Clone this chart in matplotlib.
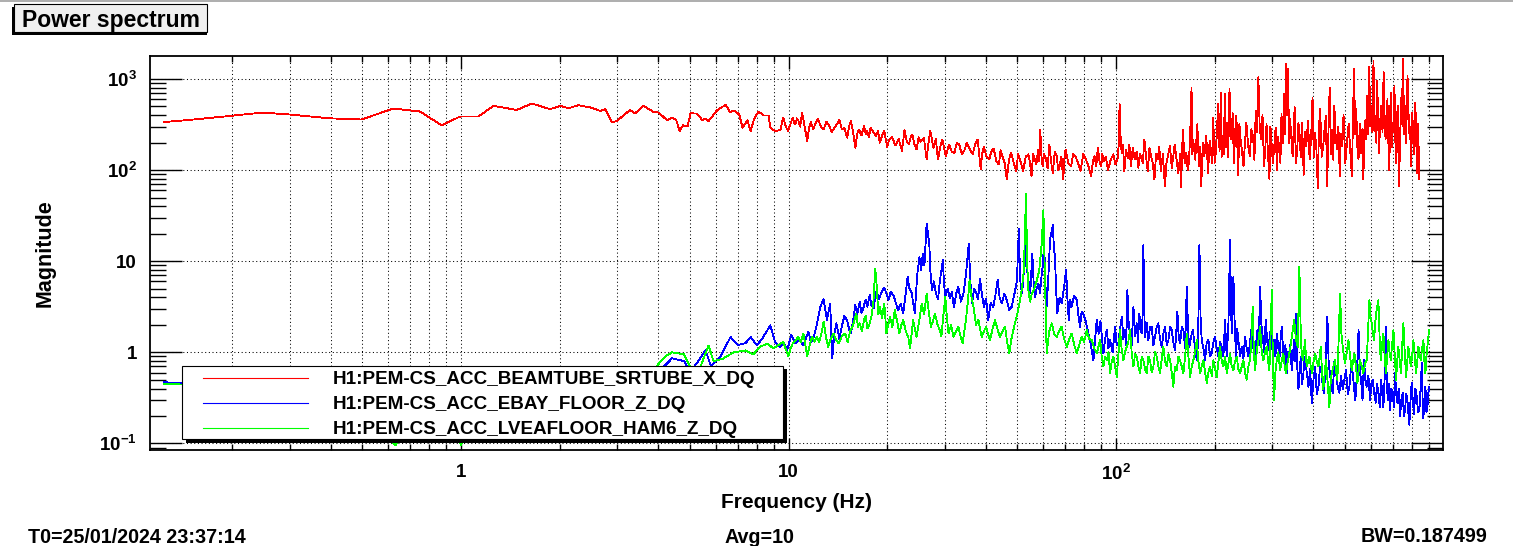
import matplotlib
matplotlib.use('Agg')
import matplotlib.pyplot as plt
from matplotlib.patches import Rectangle
from matplotlib.lines import Line2D
from matplotlib.ticker import LogLocator, NullFormatter

# ---- data: (frequency in Hz, magnitude) ----

red_pts = [
    (0.124, 337), (0.148, 355), (0.197, 393), (0.248, 428), (0.300, 407), (0.397, 370),
    (0.497, 359), (0.621, 474), (0.749, 440), (0.873, 310), (0.993, 387), (1.13, 387),
    (1.256, 507), (1.48, 457), (1.645, 538), (1.87, 466), (2.01, 507), (2.13, 478),
    (2.28, 515), (2.48, 488), (2.66, 446), (2.76, 466), (2.89, 337), (2.99, 345),
    (3.28, 457), (3.40, 420), (3.61, 507), (3.87, 434), (4.01, 428), (4.26, 352),
    (4.41, 375), (4.54, 355), (4.65, 268), (4.76, 310), (4.92, 304), (5.02, 420),
    (5.25, 417), (5.45, 355), (5.58, 367), (5.70, 345), (6.06, 457), (6.43, 520),
    (6.63, 434), (6.82, 452), (7.07, 408), (7.24, 292), (7.49, 352), (7.66, 268),
    (7.84, 361), (8.10, 440), (8.40, 398), (8.69, 398), (8.80, 292), (9.12, 265),
    (9.45, 279), (9.63, 378), (9.80, 304), (9.96, 268),
    (10.3, 378), (10.4, 330), (10.5, 318), (10.6, 370), (10.7, 355), (10.85, 300),
    (11.0, 428), (11.2, 300), (11.4, 208), (11.55, 290), (11.7, 337), (11.9, 279),
    (12.1, 330), (12.3, 367), (12.55, 300), (12.8, 279), (13.05, 340), (13.3, 310),
    (13.55, 260), (13.8, 292), (14.05, 320), (14.3, 355), (14.55, 280), (14.8, 292),
    (15.1, 227), (15.3, 300), (15.5, 347), (15.75, 260), (16.0, 176), (16.2, 250),
    (16.4, 279), (16.7, 240), (17.0, 304), (17.2, 250), (17.4, 268), (17.6, 230),
    (17.8, 292), (18.15, 260), (18.5, 236), (18.75, 270), (19.0, 200), (19.3, 240),
    (19.6, 268), (20.0, 180), (20.3, 217), (20.7, 231), (21.2, 186), (21.7, 220),
    (22.2, 162), (22.6, 275), (22.95, 210), (23.3, 191), (23.6, 230), (23.9, 245),
    (24.25, 190), (24.6, 168), (24.95, 230), (25.3, 204), (25.9, 227), (26.4, 131),
    (26.75, 200), (27.1, 268), (27.7, 176), (28.15, 220), (28.6, 131), (29.05, 180),
    (29.5, 217), (30.2, 142), (30.9, 191), (31.5, 160), (32.1, 155), (32.65, 200),
    (33.2, 191), (33.8, 150), (34.4, 162), (35.0, 200), (35.6, 176), (36.5, 149),
    (37.1, 190), (37.8, 217),
    (38.6, 102), (39.0, 150), (39.5, 180), (40.2, 140), (41.0, 131), (41.6, 160),
    (42.3, 172), (43.1, 125), (43.9, 115), (44.4, 165), (45.0, 142), (45.7, 120),
    (46.4, 79), (47.1, 130), (47.8, 155), (48.7, 120), (49.6, 97), (50.2, 150),
    (50.8, 133), (51.4, 115), (52.0, 97), (53.0, 140), (54.0, 149), (54.6, 120),
    (55.2, 85), (55.8, 150), (56.5, 131), (57.1, 115), (57.8, 168), (58.2, 125),
    (58.7, 279), (59.2, 140), (59.7, 110), (60.3, 150), (61.0, 136), (61.8, 105),
    (62.6, 191), (63.3, 125), (64.1, 93), (65.0, 160), (65.9, 142), (66.6, 100),
    (67.3, 112), (68.1, 140), (69.0, 79), (69.5, 130), (70.1, 168), (71.5, 120),
    (72.9, 110), (74.0, 150), (75.2, 142), (76.5, 120), (77.9, 97), (79.4, 150),
    (80.9, 131), (82.4, 110), (83.9, 85), (85.0, 125), (86.0, 142), (87.0, 110),
    (88.0, 176), (89.0, 125), (90.1, 110), (90.8, 150), (91.5, 125), (93.0, 140),
    (94.5, 100), (96.3, 130), (98.1, 149), (99.5, 115),
    (101, 131), (101.8, 180), (102.5, 529), (103.2, 240), (104, 155), (105, 188),
    (106, 97), (107.3, 165), (108.6, 136), (109.8, 190), (111, 110), (112.5, 175),
    (114, 131), (115.5, 160), (117, 106), (118.2, 150), (119.5, 136), (120.8, 120),
    (122, 217), (123.5, 140), (125, 97), (126.5, 175), (128, 142), (129.5, 118),
    (131, 79), (132.5, 150), (134, 131), (135.5, 180), (137, 97), (139, 150),
    (141, 66), (142.5, 120), (144, 142), (146, 185), (148, 106), (149.5, 140),
    (151, 191), (153, 130), (155, 93), (157, 150), (158, 65), (159, 150),
    (160, 279), (162, 118), (164, 155), (165.5, 100), (167, 125), (168.5, 260),
    (170, 808), (171, 150), (172, 217), (174.5, 130), (177, 318), (178, 200),
    (179, 110), (180.5, 180), (182, 66), (184, 200), (186, 142), (188.5, 240),
    (191, 93), (193, 210), (195, 162), (196.5, 120), (198, 378), (200, 120),
    (202, 168), (203.5, 300), (205, 529), (207, 160), (209, 711), (210, 140),
    (211, 236), (213, 150), (215, 680), (216.5, 180), (218, 332), (220, 140),
    (222, 774), (223.5, 300), (225, 217), (227, 420), (229, 120), (231, 260),
    (233, 393), (234.5, 200), (236, 89), (238, 320), (240, 217), (242.5, 160),
    (245, 110), (247.5, 200), (250, 332), (253, 190), (256, 142), (259, 280),
    (262, 236), (264.5, 130), (267, 446), (269.5, 260), (272, 1042), (274.5, 300),
    (277, 217), (280, 400), (283, 110), (285.5, 170), (288, 318), (291, 150),
    (294, 79), (296, 300), (298, 217), (301, 120), (304, 176), (307, 290),
    (310, 100), (312.5, 230), (315, 168), (317.5, 120), (320, 410), (323, 200),
    (326, 680), (328, 250), (330, 1459), (332.5, 400), (335, 1284), (337.5, 200),
    (340, 361), (343, 230), (346, 142), (348.5, 260), (351, 488), (354, 120),
    (357, 155), (360.5, 330), (364, 217), (366.5, 140), (369, 332), (371.5, 210),
    (374, 89), (377.5, 260), (381, 184), (385.5, 350), (390, 131), (394, 220),
    (398, 627), (401.5, 140), (405, 258), (409, 170), (413, 64), (416.5, 300),
    (420, 466), (424.5, 140), (429, 184), (433, 280), (437, 393), (439, 180),
    (441, 66), (445, 250), (449, 808), (453, 150), (457, 279), (460.5, 130),
    (464, 507), (468.5, 230), (473, 168), (477.5, 300), (482, 85), (485.5, 250),
    (489, 184), (495, 400), (501, 120), (507, 200), (513, 321), (519, 160),
    (525, 85), (529, 400), (533, 1284), (537, 250), (541, 466), (545.5, 180),
    (550, 131), (555, 320), (560, 155), (564.5, 280), (569, 79), (574, 350),
    (579, 217), (582, 420), (585, 653), (589, 250), (593, 1352), (597.5, 300),
    (602, 507), (606.5, 260), (611, 1588), (615, 270), (619, 393), (623, 200),
    (627, 955), (631, 400), (635, 155), (640.5, 340), (646, 507), (651, 260),
    (656, 1182), (660.5, 400), (665, 217), (669.5, 310), (674, 600), (678.5, 200),
    (683, 100), (686.5, 380), (690, 711), (694.5, 180), (699, 332), (703.5, 260),
    (708, 842), (712, 230), (716, 120), (720, 300), (724, 507), (727.5, 190),
    (731, 66), (738, 280), (745, 774), (749, 300), (753, 1656), (757, 250),
    (761, 507), (768.5, 200), (776, 1084), (782, 400), (788, 217), (792, 300),
    (796, 110), (802, 420), (808, 258), (814, 150), (820, 552), (825.5, 200),
    (831, 93), (834.5, 320), (838, 217), (840, 150), (842, 79)]

blue_pts = [
    (0.124, 0.47), (0.15, 0.45), (0.2, 0.40), (0.3, 0.35), (0.45, 0.30), (0.6, 0.28),
    (0.8, 0.25), (1.0, 0.28), (1.5, 0.35), (2.0, 0.40), (3.0, 0.45), (4.0, 0.60),
    (4.41, 0.86), (4.8, 0.80), (5.0, 0.60), (5.3, 0.80), (5.58, 1.05), (5.8, 0.70),
    (6.2, 0.90), (6.65, 1.47), (7.0, 1.20), (7.39, 1.26), (7.66, 1.47), (8.0, 1.20),
    (8.3, 1.40), (8.8, 1.98), (9.1, 1.30),
    (9.42, 1.15), (9.7, 1.25), (9.9, 1.05), (10.2, 1.55), (10.5, 1.25), (10.8, 1.36),
    (11.1, 1.2), (11.5, 1.68), (11.7, 1.3), (11.9, 1.42), (12.2, 2.0), (12.5, 3.16),
    (12.8, 3.81), (13.1, 2.26), (13.4, 3.44), (13.6, 0.86), (13.8, 1.6), (14.0, 2.08),
    (14.3, 1.4), (14.5, 1.83), (14.8, 2.5), (15.1, 2.26), (15.3, 1.8), (15.5, 1.61),
    (15.8, 2.4), (16.0, 3.3), (16.2, 2.6), (16.5, 3.6), (16.7, 2.7), (16.9, 3.03),
    (17.2, 3.8), (17.4, 3.16), (17.7, 4.24), (17.9, 3.3), (18.2, 3.03), (18.4, 4.2),
    (18.6, 4.8), (18.8, 3.8), (19.0, 4.06), (19.3, 4.7), (19.6, 5.15), (19.9, 4.4),
    (20.2, 3.74), (20.5, 4.6), (20.9, 4.24), (21.2, 3.6), (21.6, 2.9), (22.0, 3.4),
    (22.4, 2.67), (22.7, 4.0), (23.1, 6.7), (23.4, 5.0), (23.8, 4.42), (24.0, 3.5),
    (24.3, 2.67), (24.7, 7.0), (25.1, 11.1), (25.4, 8.0), (25.7, 12.1), (26.0, 9.0),
    (26.4, 25.8), (26.9, 15.6), (27.1, 8.0), (27.4, 4.8), (27.8, 6.0), (28.2, 4.42),
    (28.6, 3.8), (29.0, 6.2), (29.6, 10.3), (29.8, 6.0), (30.1, 4.06), (30.6, 5.0),
    (31.1, 3.9), (31.5, 4.6), (32.0, 3.16), (32.5, 4.4), (33.0, 5.2), (33.6, 3.6),
    (34.2, 4.42), (34.8, 7.0), (35.5, 15.6), (35.9, 6.0), (36.3, 3.44), (36.9, 5.0),
    (37.5, 4.42), (37.9, 3.8), (38.4, 6.4), (38.9, 4.5), (39.5, 3.16), (40.1, 3.9),
    (40.7, 2.26), (41.4, 3.5), (42.2, 3.16), (42.8, 4.2), (43.5, 6.2), (44.1, 4.0),
    (44.8, 3.44), (45.6, 4.4), (46.4, 3.74), (47.2, 2.9), (48.0, 3.16), (48.6, 3.9),
    (49.2, 4.8), (49.8, 6.0), (50.5, 22.8), (50.9, 7.0), (51.2, 5.2), (51.7, 4.5),
    (52.1, 6.7), (52.6, 9.0), (53.1, 36.2), (53.5, 8.0), (54.0, 6.2), (54.7, 4.5),
    (55.5, 12.1), (56.0, 6.0), (56.6, 4.06), (57.2, 5.0), (57.9, 5.7), (58.6, 4.5),
    (59.3, 7.3), (59.8, 9.0), (60.3, 17.0), (60.8, 6.0), (61.4, 3.16), (62.1, 6.5),
    (62.9, 17.7), (64.1, 24.8), (64.6, 14.0), (65.1, 11.1), (65.6, 5.0), (66.2, 2.67),
    (67.2, 4.0), (68.2, 3.44), (69.3, 5.0), (70.4, 8.0), (71.0, 4.0), (71.7, 2.26),
    (72.4, 3.8), (73.2, 3.16), (74.5, 4.2), (75.9, 3.74), (76.7, 2.6), (77.6, 1.91),
    (78.5, 2.8), (79.4, 2.67), (80.8, 2.2), (82.3, 1.61), (83.8, 1.2), (85.3, 0.82),
    (86.3, 1.4), (87.3, 2.26), (88.5, 1.6), (89.6, 2.2),
    (90.5, 1.5), (91.5, 0.97), (92.6, 1.4), (93.7, 1.76), (94.8, 1.1), (95.9, 1.36),
    (97.6, 1.0), (99.3, 1.91), (100.4, 1.2), (101.6, 1.25), (102.8, 1.8), (104.1, 2.46),
    (105.3, 1.4), (106.5, 1.76), (107.4, 1.2), (108.3, 4.8), (109.3, 2.0), (110.3, 1.61),
    (111.6, 1.2), (113, 3.16), (114.3, 1.5), (115.6, 2.08), (116.7, 1.3), (117.8, 2.67),
    (118.8, 1.8), (119.8, 1.61), (120.5, 2.5), (121.2, 15.0), (121.9, 3.0), (122.6, 1.48),
    (124, 2.1), (125.5, 1.36), (127, 1.9), (128.5, 1.91), (130, 1.2), (131.5, 1.48),
    (133, 1.9), (134.6, 2.08), (136.2, 1.4), (137.9, 1.15), (139.5, 1.6), (141.1, 1.91),
    (142.8, 1.2), (144.5, 1.36), (146.2, 1.9), (147.9, 1.76), (149.6, 1.3), (151.4, 1.06),
    (152.6, 1.6), (153.9, 2.79), (155.3, 1.5), (156.8, 1.25), (158.7, 1.9), (160.6, 1.76),
    (162.5, 1.1), (164.4, 5.24), (166, 1.6), (167.5, 1.15), (169.5, 1.5), (171.5, 1.76),
    (173.9, 1.2), (176.3, 0.82), (178, 1.3), (179.7, 15.0), (181.1, 2.5), (182.6, 1.36),
    (184.8, 1.1), (187.0, 0.82), (189.2, 1.3), (191.4, 1.36), (193.7, 0.9), (196.0, 0.97),
    (198.3, 1.3), (200.6, 1.48), (203, 1.1), (205.3, 0.90), (207.7, 1.3), (210.2, 1.15),
    (212.7, 0.9), (215.2, 2.26), (216.5, 1.3), (217.8, 0.90), (220.3, 2.0), (222.9, 17.0),
    (224.2, 4.0), (225.5, 1.61), (226.8, 2.5), (228.2, 6.7), (230.3, 2.0), (232.5, 0.90),
    (234.4, 1.8), (236.4, 1.36), (239.2, 0.9), (242.0, 1.15), (244.8, 0.85), (247.7, 1.48),
    (250.6, 1.1), (253.5, 0.90), (256.5, 1.3), (259.6, 1.91), (262.6, 1.1), (265.7, 0.70),
    (268, 1.3), (270.2, 1.76), (272.7, 1.2), (275.3, 5.24), (277.9, 2.0), (280.5, 1.48),
    (283.4, 1.0), (286.4, 2.26), (289.1, 1.4), (291.8, 1.06), (294.6, 1.5), (297.4, 1.91),
    (300.5, 1.0), (303.7, 1.36), (306.6, 0.9), (309.5, 1.61), (312.4, 1.2), (315.3, 0.82),
    (318, 1.4), (320.6, 1.91), (323.3, 1.1), (326, 0.82), (329, 1.2), (332, 0.59),
    (334.3, 1.0), (336.6, 0.90), (340.3, 1.2), (344, 0.64), (346.8, 0.9), (349.7, 1.36),
    (352, 0.8), (354.6, 2.67), (357.5, 0.7), (360.5, 0.39), (363.4, 0.6), (366.4, 0.90),
    (369.8, 0.45), (373.3, 0.59), (376.7, 0.9), (380.2, 0.70), (383.4, 0.55), (386.7, 0.42),
    (391.3, 0.65), (395.9, 0.28), (400.6, 0.5), (405.4, 0.70), (410.2, 0.35), (415, 0.42),
    (419.8, 0.7), (424.6, 0.59), (428, 0.4), (431.5, 0.36), (436.7, 0.8), (441.9, 2.46),
    (446.1, 0.7), (450.3, 0.59), (454.5, 0.4), (458.8, 0.36), (464.2, 0.8), (469.7, 0.59),
    (475.2, 0.42), (480.8, 0.36), (486.5, 0.55), (492.2, 0.39), (498, 0.5), (503.9, 0.64),
    (509.9, 0.35), (515.9, 0.42), (522, 0.7), (528.1, 0.59), (533, 0.4), (538, 0.30),
    (544, 0.6), (550, 1.76), (555, 0.6), (560, 0.50), (565.7, 0.3), (571.5, 0.82),
    (577, 0.5), (582.7, 0.42), (589.6, 0.55), (596.5, 0.30), (602.1, 0.45), (607.7, 0.50),
    (614.2, 0.35), (620.7, 0.28), (626.5, 0.45), (632.4, 0.36), (638.4, 0.25), (644.4, 0.50),
    (649.7, 0.35), (655.1, 0.25), (660.5, 0.5), (665.9, 1.91), (670.6, 0.5), (675.3, 0.30),
    (680.8, 0.45), (686.4, 0.23), (692.9, 0.4), (699.4, 0.36), (705.2, 0.25), (711, 0.59),
    (716.8, 0.35), (722.6, 0.28), (729.4, 0.4), (736.3, 0.20), (743.3, 0.3), (750.3, 0.36),
    (756.5, 0.2), (762.7, 0.23), (769, 0.35), (775.3, 0.30), (780.7, 0.22), (786.2, 0.16),
    (792.7, 0.3), (799.2, 0.46), (805.9, 0.28), (812.6, 0.21), (820.3, 0.4), (828, 0.33),
    (835.8, 0.22), (843.6, 0.23), (850.8, 0.4), (858, 0.76), (863, 0.3), (867.9, 0.19),
    (874, 0.3), (880.2, 0.42), (886.5, 0.22), (892.7, 0.25), (898, 0.35), (903.2, 0.42)]

green_pts = [
    (0.124, 0.45), (0.15, 0.44), (0.2, 0.30), (0.3, 0.25), (0.45, 0.20), (0.58, 0.14),
    (0.63, 0.095), (0.67, 0.14), (0.8, 0.20), (0.95, 0.14), (1.0, 0.097), (1.05, 0.15),
    (1.5, 0.30), (2.0, 0.35), (3.0, 0.40), (3.8, 0.60), (4.2, 0.90), (4.41, 1.00),
    (4.8, 0.95), (5.0, 0.70), (5.3, 0.60), (5.70, 1.19), (5.9, 0.80), (6.3, 0.85),
    (6.8, 1.00), (7.39, 1.05), (7.8, 0.95), (8.2, 1.15), (8.61, 1.25), (9.0, 1.10),
    (9.3, 1.2), (9.64, 1.3), (9.8, 1.1), (9.99, 0.9), (10.15, 1.1), (10.3, 1.25),
    (10.5, 1.35), (10.7, 1.48), (10.9, 1.3), (11.1, 1.61), (11.4, 0.9), (11.6, 1.2),
    (11.8, 1.48), (12.0, 1.3), (12.2, 1.48), (12.4, 1.3), (12.6, 1.61), (12.8, 2.17),
    (13.0, 1.5), (13.2, 1.15), (13.45, 1.4), (13.7, 1.61), (13.95, 1.4), (14.2, 1.25),
    (14.55, 1.5), (14.9, 1.61), (15.15, 1.3), (15.4, 1.68), (15.75, 2.0), (16.1, 2.67),
    (16.3, 1.9), (16.5, 2.08), (16.75, 1.7), (17.0, 2.26), (17.2, 2.5), (17.4, 1.83),
    (17.65, 2.0), (17.9, 2.46), (18.15, 3.5), (18.4, 8.3), (18.6, 5.2), (18.8, 2.6),
    (19.0, 3.16), (19.3, 2.4), (19.6, 3.44), (19.75, 2.4), (19.9, 1.61), (20.15, 2.0),
    (20.4, 2.46), (20.75, 1.9), (21.1, 2.9), (21.45, 2.2), (21.8, 1.61), (22.1, 2.0),
    (22.4, 2.26), (22.8, 1.7), (23.2, 1.48), (23.5, 1.1), (23.75, 1.6), (24.0, 2.26),
    (24.3, 1.8), (24.6, 1.48), (25.05, 2.2), (25.5, 3.44), (25.95, 2.6), (26.4, 4.42),
    (26.8, 2.8), (27.2, 1.91), (27.6, 2.2), (28.0, 2.67), (28.5, 2.0), (29.0, 1.75),
    (29.3, 1.5), (29.6, 2.26), (29.85, 3.0), (30.1, 4.06), (30.45, 2.4), (30.8, 1.61),
    (31.35, 2.0), (31.9, 1.48), (32.45, 1.7), (33.0, 1.91), (33.5, 1.5), (34.0, 1.25),
    (34.4, 1.7), (34.8, 2.26), (35.25, 3.5), (35.7, 6.2), (36.2, 4.0), (36.7, 3.16),
    (37.35, 2.0), (38.0, 2.26), (38.45, 1.8), (38.9, 1.48), (39.5, 1.7), (40.1, 1.91),
    (40.65, 1.6), (41.2, 1.36), (41.95, 1.8), (42.7, 2.26), (43.45, 1.8), (44.2, 1.48),
    (45.0, 1.7), (45.8, 1.91), (46.5, 1.3), (47.2, 0.97), (47.9, 1.4), (48.6, 1.75),
    (49.3, 2.2), (50.0, 2.67), (50.75, 3.5), (51.5, 4.8), (52.3, 8.0), (53.1, 55.0),
    (53.5, 10.0), (54.0, 4.8), (54.65, 3.6), (55.3, 4.42), (56.3, 5.0), (57.3, 6.2),
    (58.3, 8.0), (59.3, 15.6), (60.0, 36.2), (60.7, 6.2), (61.4, 0.97), (62.5, 1.7),
    (63.6, 2.08), (64.75, 1.6), (65.9, 1.48), (67.05, 1.7), (68.2, 1.91), (69.45, 1.4),
    (70.7, 1.15), (71.95, 1.4), (73.2, 1.61), (74.55, 1.2), (75.9, 0.97), (77.2, 1.2),
    (78.5, 1.48), (79.9, 1.3), (81.4, 1.75), (82.8, 1.4), (84.3, 1.36), (85.8, 1.1),
    (87.3, 0.97),
    (89.4, 1.36), (90.4, 0.9), (91.5, 0.70), (92.6, 0.9), (93.7, 0.82), (94.8, 1.0),
    (95.9, 0.59), (97.0, 0.8), (98.1, 0.90), (99.3, 0.7), (100.5, 0.54), (101.6, 0.9),
    (102.8, 1.76), (104, 1.1), (105.3, 0.82), (106.5, 1.0), (107.8, 1.15), (109, 1.3),
    (110.3, 1.76), (111.6, 1.0), (113, 0.70), (114.3, 0.95), (115.6, 0.90), (117, 0.7),
    (118.4, 0.59), (119.8, 0.9), (121.2, 0.82), (122.6, 0.65), (124.1, 0.59), (125.5, 0.9),
    (127, 0.82), (128.5, 0.6), (130, 0.70), (131.5, 1.0), (133.1, 0.90), (134.7, 0.7),
    (136.3, 0.59), (137.9, 0.85), (139.5, 1.15), (141.1, 0.8), (142.8, 0.70), (144.5, 0.95),
    (146.2, 0.82), (147.9, 0.6), (149.6, 0.42), (151.4, 0.7), (153.2, 0.64), (155, 0.9),
    (156.8, 0.82), (158.7, 0.7), (160.6, 0.59), (162.5, 0.9), (164.4, 1.61), (166.3, 0.9),
    (168.3, 0.54), (170.2, 0.7), (172.2, 0.82), (174.2, 1.0), (176.3, 1.36), (178.4, 0.8),
    (180.5, 0.59), (182.6, 0.7), (184.8, 0.82), (187, 0.6), (189.2, 0.46), (191.4, 0.6),
    (193.7, 0.70), (196, 0.55), (198.2, 0.82), (200.6, 0.65), (203, 0.54), (205.4, 0.8),
    (207.8, 1.15), (210.2, 0.8), (212.7, 0.70), (215.2, 0.9), (217.8, 0.59), (220.3, 0.75),
    (222.9, 0.97), (225.5, 0.7), (228.2, 0.64), (230.9, 0.8), (233.6, 0.90), (236.3, 0.65),
    (239.1, 0.59), (242, 0.7), (244.8, 0.82), (247.7, 0.6), (250.6, 0.50), (253.5, 0.7),
    (256.5, 0.82), (258.9, 1.3), (261.3, 3.16), (263.5, 1.0), (265.7, 0.64), (268, 0.9),
    (270.2, 1.15), (272.7, 1.4), (275.3, 1.91), (278.5, 1.0), (281.8, 0.82), (285, 1.0),
    (288.4, 1.15), (291.1, 0.8), (293.9, 0.64), (296.3, 1.5), (298.8, 4.8), (301.2, 0.8),
    (303.7, 0.30), (306.6, 0.6), (309.5, 0.82), (313.1, 1.0), (316.8, 0.64), (320.5, 0.8),
    (324.3, 0.97), (327.3, 0.7), (330.4, 0.59), (333.5, 0.75), (336.6, 0.90), (340.3, 1.1),
    (344, 1.48), (346.8, 1.8), (349.7, 2.26), (354.2, 1.4), (358.7, 1.15), (360.7, 3.0),
    (362.8, 8.67), (367.1, 1.2), (371.5, 0.82), (374.5, 1.0), (377.6, 1.36), (379.9, 0.9),
    (382.2, 0.70), (385.8, 0.8), (389.4, 0.90), (393.1, 0.7), (396.8, 0.59), (401.1, 0.8),
    (405.4, 0.97), (410.2, 0.8), (415, 0.70), (418.3, 0.9), (421.7, 1.15), (425.6, 0.6),
    (429.5, 0.39), (433.6, 0.6), (437.7, 0.82), (442.9, 0.45), (448.1, 0.25), (451.8, 0.45),
    (455.5, 0.59), (460.9, 0.7), (466.3, 0.82), (470.1, 0.6), (474, 0.50), (478.5, 1.5),
    (483.1, 4.43), (487.6, 1.6), (492.2, 1.15), (496.3, 0.9), (500.4, 0.76), (506.3, 1.0),
    (512.3, 1.36), (518.3, 0.9), (524.4, 0.64), (529.3, 0.8), (534.3, 0.97), (540, 0.7),
    (545.8, 0.46), (550.8, 0.65), (555.9, 0.82), (562.4, 0.7), (568.9, 0.59), (575.8, 0.75),
    (582.7, 0.82), (588.2, 1.8), (593.7, 3.74), (598.6, 2.4), (603.5, 2.08), (608.5, 1.6),
    (613.5, 1.36), (617.8, 2.0), (622.2, 2.67), (627.3, 3.2), (632.4, 3.74), (637.6, 1.5),
    (642.8, 0.82), (648.9, 1.2), (655.1, 1.61), (661, 0.9), (667, 0.59), (672.8, 0.9),
    (678.6, 1.36), (684.2, 1.0), (689.8, 0.82), (696.4, 1.2), (703.1, 1.76), (709.6, 0.9),
    (716.1, 0.50), (722, 0.8), (727.8, 1.15), (734.7, 0.8), (741.6, 0.59), (747.7, 1.2),
    (753.9, 2.08), (761.1, 1.0), (768.3, 0.54), (774.6, 0.8), (780.9, 1.15), (787.3, 0.9),
    (793.8, 0.70), (801.4, 0.9), (809, 1.36), (816.6, 0.9), (824.2, 0.59), (831.1, 0.8),
    (838, 1.15), (844.8, 0.95), (851.7, 0.82), (859.8, 1.1), (867.9, 1.36), (874, 0.8),
    (880.2, 0.59), (886.5, 0.9), (892.7, 1.15), (898, 1.4), (903.2, 1.76)]

channels = ['H1:PEM-CS_ACC_BEAMTUBE_SRTUBE_X_DQ',
            'H1:PEM-CS_ACC_EBAY_FLOOR_Z_DQ',
            'H1:PEM-CS_ACC_LVEAFLOOR_HAM6_Z_DQ']
colors = ['#ff0000', '#0000ff', '#00ff00']

y_ticks = [0.1, 1, 10, 100, 1000]
y_labels = [r'$\mathbf{10^{-1}}$', '1', '10', r'$\mathbf{10^{2}}$', r'$\mathbf{10^{3}}$']
x_ticks = [1, 10, 100]
x_labels = ['1', '10', r'$\mathbf{10^{2}}$']

# ---- layout (pixels of the 1513x546 picture) ----
W, H = 1513, 546

def fx(x):
    return x / W

def fy(y):
    return 1 - y / H

plt.rcParams['font.family'] = ['Liberation Sans', 'DejaVu Sans']
plt.rcParams['font.weight'] = 'bold'
plt.rcParams['mathtext.fontset'] = 'custom'
plt.rcParams['mathtext.bf'] = 'Liberation Sans:bold'
plt.rcParams['mathtext.rm'] = 'Liberation Sans:bold'

fig = plt.figure(figsize=(W / 100, H / 100), dpi=100)
ax = fig.add_axes([fx(150), fy(450), fx(1443 - 150), (450 - 56) / H])

# ROOT draws its graphs 1px wide without antialiasing
for pts, c in zip([red_pts, blue_pts, green_pts], colors):
    fr, mg = zip(*pts)
    ax.plot(fr, mg, color=c, linewidth=0.6, antialiased=False)

ax.set_xscale('log')
ax.set_yscale('log')
ax.set_xlim(0.1123, 996)
ax.set_ylim(0.0847, 1787)

ax.set_yticks(y_ticks, y_labels)
ax.set_xticks(x_ticks, x_labels)
ax.yaxis.set_minor_locator(LogLocator(base=10, subs=[2, 3, 4, 5, 6, 7, 8, 9], numticks=20))
ax.xaxis.set_minor_locator(LogLocator(base=10, subs=[2, 3, 4, 5, 6, 7, 8, 9], numticks=20))
ax.yaxis.set_minor_formatter(NullFormatter())
ax.xaxis.set_minor_formatter(NullFormatter())

ax.tick_params(which='both', direction='in', top=True, right=True, width=1.0, colors='black')
ax.tick_params(axis='y', which='major', length=23, pad=9.5, labelsize=13.5)
ax.tick_params(axis='y', which='minor', length=11.5)
ax.tick_params(axis='x', which='major', length=9, pad=10, labelsize=13.5)
ax.tick_params(axis='x', which='minor', length=4.5)

ax.grid(True, which='both', axis='x', color='black', linestyle=(0, (1, 2.5)), linewidth=0.75)
ax.grid(True, which='major', axis='y', color='black', linestyle=(0, (1, 2.5)), linewidth=0.75)
for s in ax.spines.values():
    s.set_linewidth(1.3)

ax.set_xlabel('Frequency (Hz)', fontsize=15, fontweight='bold')
ax.xaxis.set_label_coords(0.5, -(508 - 450) / 394)
ax.xaxis.label.set_verticalalignment('baseline')
ax.set_ylabel('Magnitude', fontsize=15.5, fontweight='bold')
ax.yaxis.set_label_coords((45 - 150) / 1293, 0.5)
ax.yaxis.label.set_verticalalignment('center')

# title box with shadow
fig.add_artist(Rectangle((fx(11.7), fy(34.7)), fx(207 - 11.7), (34.7 - 7) / H,
                         transform=fig.transFigure, facecolor='black', edgecolor='none'))
fig.add_artist(Rectangle((fx(14), fy(32)), fx(207 - 14), (32 - 4.3) / H,
                         transform=fig.transFigure, facecolor='#f0f0f0',
                         edgecolor='black', linewidth=0.8))
fig.text(fx(110.5), fy(26.5), 'Power spectrum', fontsize=16.5, fontweight='bold',
         ha='center', va='baseline')

# legend box with shadow
fig.add_artist(Rectangle((fx(185.5), fy(443)), fx(787 - 185.5), (443 - 369) / H,
                         transform=fig.transFigure, facecolor='black', edgecolor='none'))
fig.add_artist(Rectangle((fx(181.7), fy(439)), fx(783 - 181.7), (439 - 365.5) / H,
                         transform=fig.transFigure, facecolor='white',
                         edgecolor='black', linewidth=0.8))
for i, (name, c) in enumerate(zip(channels, colors)):
    yl = 377.5 + i * 25
    fig.add_artist(Line2D([fx(203), fx(308)], [fy(yl), fy(yl)], color=c, linewidth=0.8,
                          snap=True, transform=fig.transFigure))
    fig.text(fx(333), fy(yl + 6.2), name, fontsize=13.6, fontweight='bold',
             ha='left', va='baseline')

# status line
fig.text(fx(28), fy(543), 'T0=25/01/2024 23:37:14', fontsize=14.2, fontweight='bold',
         ha='left', va='baseline')
fig.text(fx(759), fy(543), 'Avg=10', fontsize=14.2, fontweight='bold',
         ha='center', va='baseline')
fig.text(fx(1488), fy(542), 'BW=0.187499', fontsize=14.2, fontweight='bold',
         ha='right', va='baseline')

fig.add_artist(Line2D([0, 1], [fy(0.7), fy(0.7)], color='#a0a0a0', linewidth=1.2,
                      transform=fig.transFigure))

fig.savefig('out.png', dpi=100)
